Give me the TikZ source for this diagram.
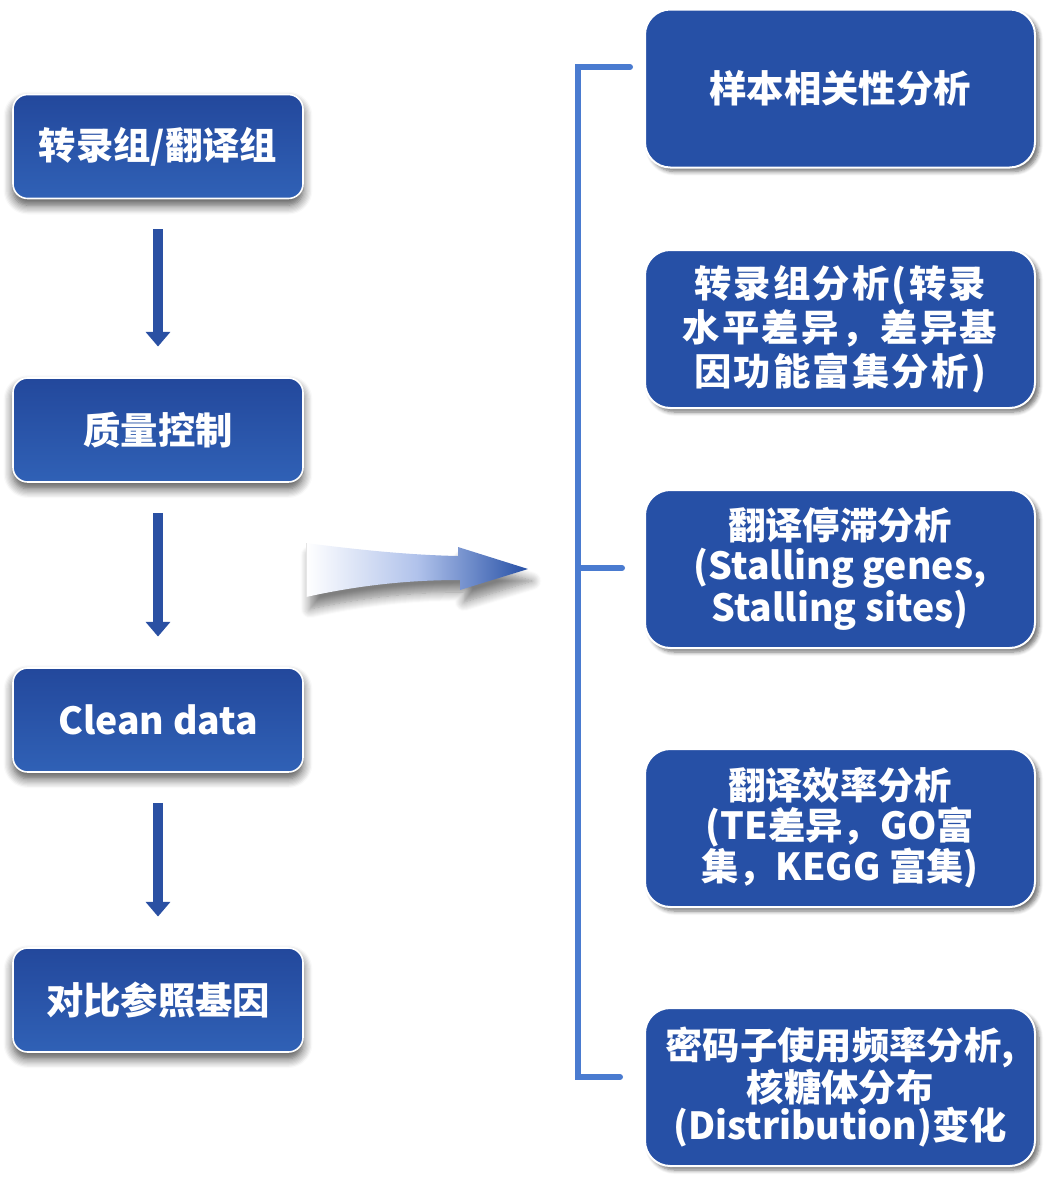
\documentclass[tikz,border=0pt]{standalone}
\usepackage{fontspec}
\newfontfamily\cjk{Noto Sans CJK SC}
\newfontfamily\cjksp{Noto Sans CJK SC}[LetterSpace=6]
\usetikzlibrary{arrows.meta,shadows.blur,positioning}
\definecolor{boxblue}{HTML}{2650A6}
\definecolor{boxtop}{HTML}{23489C}
\definecolor{boxbot}{HTML}{3061B6}
\definecolor{brk}{HTML}{4A7BD0}
\definecolor{arr}{HTML}{2A50A3}
\definecolor{glow}{HTML}{9DB3E6}
\tikzset{
  leftbox/.style={rectangle, rounded corners=11pt, minimum width=217.5pt, minimum height=78pt,
    top color=boxtop, bottom color=boxbot, draw=white, line width=1.2pt,
    text=white, font=\cjk\bfseries\fontsize{28}{32}\selectfont, align=center,
    blur shadow={shadow xshift=0pt, shadow yshift=-5pt, shadow blur steps=8, shadow blur radius=7pt, shadow opacity=70, fill=glow}},
  rightbox/.style={rectangle, rounded corners=19pt, minimum width=292.5pt, minimum height=118.5pt,
    fill=boxblue, draw=white, line width=1.5pt,
    text=white, font=\cjk\bfseries\fontsize{28}{31}\selectfont, align=center,
    blur shadow={shadow xshift=3pt, shadow yshift=-3pt, shadow blur steps=6, shadow blur radius=3pt, shadow opacity=55}},
  downarrow/.style={draw=arr, line width=7.5pt, -{Triangle[width=18pt,length=11pt]},
    shorten <=22.5pt, shorten >=23pt},
  bracketline/.style={draw=brk, line width=4.5pt, line cap=round},
}
\begin{document}
\begin{tikzpicture}[x=0.75pt,y=-0.75pt]
\useasboundingbox (0,0) rectangle (1057,1189);
% left column
\node[leftbox] (l1) at (158,146.5) {转录组/翻译组};
\node[leftbox] (l2) at (158,430) {质量控制};
\node[leftbox] (l3) at (158,720) {Clean data};
\node[leftbox] (l4) at (158,1000) {对比参照基因};
\draw[downarrow] (l1.south) -- (l2.north);
\draw[downarrow] (l2.south) -- (l3.north);
\draw[downarrow] (l3.south) -- (l4.north);
% big arrow
\shade[left color=white, right color=boxblue, middle color=glow!80,
  blur shadow={shadow xshift=3pt, shadow yshift=-9pt, shadow blur steps=10, shadow blur radius=7pt, shadow opacity=50}]
  (306,543) .. controls (360,550) and (410,555) .. (458,556)
  -- (458,547) -- (528,569) -- (460,590) -- (460,580)
  .. controls (410,580) and (360,585) .. (306,597) -- cycle;
\draw[white!80!gray, line width=0.6pt] (306,543) -- (306,597);
% right column
\node[rightbox] (r1) at (840,88.5) {\raisebox{-3pt}{样本相关性分析}};
\node[rightbox, font=\cjksp\bfseries\fontsize{28}{33}\selectfont] (r2) at (840,329) {转录组分析(转录\\水平差异，差异基\\因功能富集分析)};
\node[rightbox, font=\cjk\bfseries\fontsize{28}{30}\selectfont] (r3) at (840,569) {翻译停滞分析\\(Stalling genes,\\Stalling sites)};
\node[rightbox, font=\cjk\bfseries\fontsize{28}{30}\selectfont] (r4) at (840,828) {翻译效率分析\\(TE差异，GO富\\集，KEGG 富集)};
\node[rightbox, font=\cjk\bfseries\fontsize{28}{29}\selectfont] (r5) at (840,1087) {密码子使用频率分析,\\核糖体分布\\(Distribution)变化};
% bracket
\coordinate (bt) at (578,67);
\coordinate (bm) at (578,568);
\coordinate (bb) at (578,1077);
\draw[bracketline] (630,67) -- (bt) -- (bb) -- (620,1077);
\draw[bracketline] (bm) -- (622,568);
\end{tikzpicture}
\end{document}
